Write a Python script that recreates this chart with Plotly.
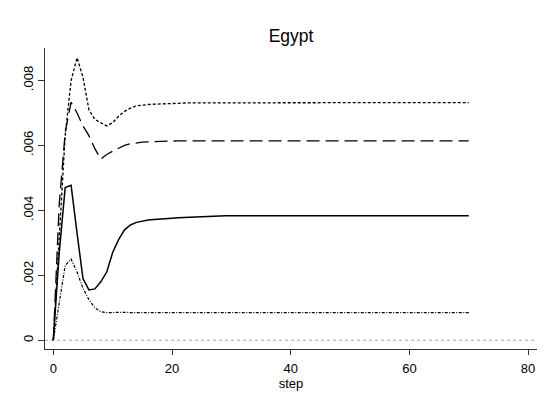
import plotly.graph_objects as go

# Forecast horizon (steps 0..70)
steps = list(range(71))

# Impulse responses, Egypt
resp_solid = [
    0, 0.0027, 0.0047, 0.00477, 0.0033, 0.0019, 0.00155, 0.00158, 0.0018, 0.0021,
    0.0027, 0.0031, 0.0034, 0.00355, 0.00363, 0.00367, 0.0037, 0.00372, 0.00374, 0.00375,
    0.00376, 0.00377, 0.00378, 0.00379, 0.0038, 0.0038, 0.00381, 0.00381, 0.00382, 0.00383,
    0.00383, 0.00383, 0.00383, 0.00383, 0.00383, 0.00383, 0.00383, 0.00383, 0.00383, 0.00383,
    0.00383, 0.00383, 0.00383, 0.00383, 0.00383, 0.00383, 0.00383, 0.00383, 0.00383, 0.00383,
    0.00383, 0.00383, 0.00383, 0.00383, 0.00383, 0.00383, 0.00383, 0.00383, 0.00383, 0.00383,
    0.00383, 0.00383, 0.00383, 0.00383, 0.00383, 0.00383, 0.00383, 0.00383, 0.00383, 0.00383,
    0.00383,
]
resp_longdash = [
    0, 0.0042, 0.0064, 0.00733, 0.007, 0.0066, 0.0063, 0.0059, 0.00558, 0.00572,
    0.00582, 0.00592, 0.006, 0.00605, 0.00608, 0.0061, 0.00611, 0.00612, 0.00612, 0.00613,
    0.00613, 0.00614, 0.00614, 0.00614, 0.00614, 0.00614, 0.00614, 0.00614, 0.00614, 0.00614,
    0.00614, 0.00614, 0.00614, 0.00614, 0.00614, 0.00614, 0.00614, 0.00614, 0.00614, 0.00614,
    0.00614, 0.00614, 0.00614, 0.00614, 0.00614, 0.00614, 0.00614, 0.00614, 0.00614, 0.00614,
    0.00614, 0.00614, 0.00614, 0.00614, 0.00614, 0.00614, 0.00614, 0.00614, 0.00614, 0.00614,
    0.00614, 0.00614, 0.00614, 0.00614, 0.00614, 0.00614, 0.00614, 0.00614, 0.00614, 0.00614,
    0.00614,
]
resp_shortdash = [
    0, 0.0031, 0.0063, 0.008, 0.0087, 0.0081, 0.0071, 0.0068, 0.0067, 0.0066,
    0.0067, 0.0069, 0.00705, 0.00715, 0.00722, 0.00725, 0.00726, 0.00727, 0.00728, 0.00729,
    0.0073, 0.00731, 0.00731, 0.00731, 0.00731, 0.00731, 0.00732, 0.00732, 0.00732, 0.00732,
    0.00732, 0.00732, 0.00732, 0.00732, 0.00732, 0.00732, 0.00732, 0.00732, 0.00732, 0.00732,
    0.00732, 0.00732, 0.00732, 0.00732, 0.00732, 0.00732, 0.00732, 0.00732, 0.00732, 0.00732,
    0.00732, 0.00732, 0.00732, 0.00732, 0.00732, 0.00732, 0.00732, 0.00732, 0.00732, 0.00732,
    0.00732, 0.00732, 0.00732, 0.00732, 0.00732, 0.00732, 0.00732, 0.00732, 0.00732, 0.00732,
    0.00732,
]
resp_dashdot = [
    0, 0.0012, 0.0023, 0.0025, 0.0021, 0.0016, 0.00125, 0.001, 0.00088, 0.00085,
    0.00086, 0.00086, 0.00086, 0.00085, 0.00085, 0.00085, 0.00085, 0.00085, 0.00085, 0.00085,
    0.00085, 0.00085, 0.00085, 0.00085, 0.00085, 0.00085, 0.00085, 0.00085, 0.00085, 0.00085,
    0.00085, 0.00085, 0.00085, 0.00085, 0.00085, 0.00085, 0.00085, 0.00085, 0.00085, 0.00085,
    0.00085, 0.00085, 0.00085, 0.00085, 0.00085, 0.00085, 0.00085, 0.00085, 0.00085, 0.00085,
    0.00085, 0.00085, 0.00085, 0.00085, 0.00085, 0.00085, 0.00085, 0.00085, 0.00085, 0.00085,
    0.00085, 0.00085, 0.00085, 0.00085, 0.00085, 0.00085, 0.00085, 0.00085, 0.00085, 0.00085,
    0.00085,
]

x_ticks = [0, 20, 40, 60, 80]
y_ticks = [0, 0.002, 0.004, 0.006, 0.008]
y_tick_text = ["0", ".002", ".004", ".006", ".008"]

FONT = "Liberation Sans, Arial, sans-serif"

fig = go.Figure()

series = [
    (resp_solid, "solid", 1.5),
    (resp_longdash, "13px,6px", 1.3),
    (resp_shortdash, "3px,2px", 1.3),
    (resp_dashdot, "3px,1.5px,1px,1.5px", 1.2),
]
for ys, dash, w in series:
    fig.add_trace(go.Scatter(
        x=steps, y=ys, mode="lines",
        line=dict(color="black", width=w, dash=dash),
        showlegend=False, hoverinfo="skip",
    ))

# Reference line at zero across the full plot width
fig.add_shape(type="line", xref="paper", x0=0, x1=1, yref="y", y0=0, y1=0,
              line=dict(color="#a8a8a8", width=1, dash="dot"), layer="below")

fig.update_layout(
    width=545, height=394,
    margin=dict(l=45, r=8, t=48, b=41),
    paper_bgcolor="white", plot_bgcolor="white",
    font=dict(family=FONT, size=13, color="black"),
    title=dict(text="Egypt", x=0.5, xref="paper", xanchor="center",
               y=1 - 36 / 394, yref="container", yanchor="middle",
               font=dict(family=FONT, size=17.5, color="black")),
    xaxis=dict(
        range=[-1.4, 81.5], tickvals=x_ticks,
        showline=True, linecolor="#333333", linewidth=1,
        ticks="outside", ticklen=5, tickcolor="#333333", tickwidth=1,
        ticklabelstandoff=2,
        showgrid=False, zeroline=False,
        tickfont=dict(size=13),
        title=dict(text="step", standoff=1, font=dict(size=13)),
    ),
    yaxis=dict(
        range=[-0.00027, 0.009], tickvals=y_ticks, ticktext=y_tick_text,
        tickangle=-90,
        showline=True, linecolor="#333333", linewidth=1,
        ticks="outside", ticklen=6, tickcolor="#333333", tickwidth=1,
        showgrid=False, zeroline=False,
        tickfont=dict(size=13),
    ),
)

fig.write_html("out.html")
